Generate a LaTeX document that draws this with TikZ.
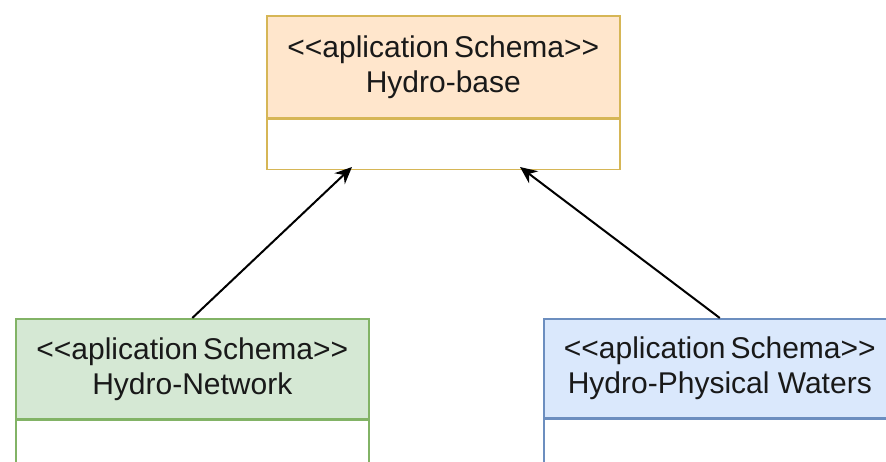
\documentclass[tikz,border=0pt]{standalone}
\usepackage{fontspec}
\setmainfont{Liberation Sans}
\usetikzlibrary{arrows.meta}
\definecolor{orfill}{HTML}{FFE6CC}
\definecolor{ordraw}{HTML}{D6B656}
\definecolor{grfill}{HTML}{D5E8D4}
\definecolor{grdraw}{HTML}{82B366}
\definecolor{blfill}{HTML}{DAE8FC}
\definecolor{bldraw}{HTML}{6C8EBF}
\tikzset{
  pkghead/.style={draw, line width=1.6pt, rectangle, anchor=north west, align=center,
    inner sep=0pt, font=\fontsize{30}{35}\selectfont, text=black!90},
  pkgbody/.style={draw, line width=1.6pt, rectangle, fill=white, anchor=north, inner sep=0pt}
}
\begin{document}
\begin{tikzpicture}[x=1pt,y=-1pt,>={Stealth[length=17pt,width=15pt]}]
\useasboundingbox (0,0) rectangle (886,462);
\clip (0,0) rectangle (886,462);
\fill[white] (0,0) rectangle (886,462);
\node[pkghead, fill=orfill, draw=ordraw, minimum width=353pt, minimum height=102pt] (base) at (266,15)
  {{<}{<}aplication\,Schema{>}{>}\\Hydro-base};
\node[pkgbody, draw=ordraw, minimum width=353pt, minimum height=50pt] (basebody) at (base.south) {};
\node[pkghead, fill=grfill, draw=grdraw, minimum width=353pt, minimum height=100pt] (net) at (15,318)
  {{<}{<}aplication\,Schema{>}{>}\\Hydro-Network};
\node[pkgbody, draw=grdraw, minimum width=353pt, minimum height=70pt] (netbody) at (net.south) {};
\node[pkghead, fill=blfill, draw=bldraw, minimum width=352pt, minimum height=99pt] (phys) at (543,318)
  {{<}{<}aplication\,Schema{>}{>}\\Hydro-Physical Waters};
\node[pkgbody, draw=bldraw, minimum width=352pt, minimum height=70pt] (physbody) at (phys.south) {};
\coordinate (in1) at (352,167);
\coordinate (in2) at (520,167);
\draw[->, line width=2pt] (net.north) -- (in1);
\draw[->, line width=2pt] (phys.north) -- (in2);
\end{tikzpicture}
\end{document}
